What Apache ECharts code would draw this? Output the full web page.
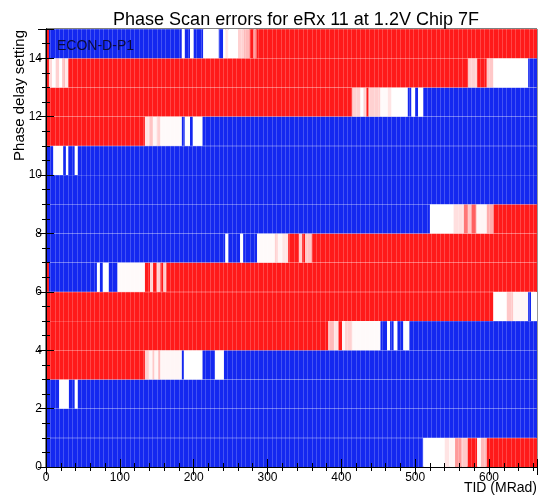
<!DOCTYPE html>
<html>
<head>
<meta charset="utf-8">
<script src="https://cdn.jsdelivr.net/npm/echarts@6/dist/echarts.min.js"></script>
<style>
  html, body { margin: 0; padding: 0; background: #fff; }
  #chart { width: 539px; height: 497px; }
</style>
</head>
<body>
<div id="chart"></div>
<script>
// error level per run: 0 = no errors (blue), 0.5 = white, 1 = all errors (red)
// each run is [tidStart, tidEnd, level]
const row0 = [[0, 511, 0], [511, 540, 0.5], [540, 546, 0.56], [546, 554, 0.52], [554, 563, 0.72], [563, 571, 0.62], [571, 584, 1], [584, 589, 0.52], [589, 597, 0.65], [597, 665, 1]]
const row1 = [[0, 665, 0]]
const row2 = [[0, 18, 0], [18, 31, 0.5], [31, 39, 0], [39, 43, 0.5], [43, 665, 0]]
const row3 = [[0, 134, 1], [134, 140, 0.6], [140, 144, 0.52], [144, 147, 0.62], [147, 152, 0.52], [152, 155, 0.65], [155, 184, 0.52], [184, 187, 0], [187, 212, 0.5], [212, 229, 0], [229, 241, 0.5], [241, 665, 0]]
const row4 = [[0, 382, 1], [382, 390, 0.65], [390, 396, 0.56], [396, 401, 1], [401, 405, 0.52], [405, 415, 0.6], [415, 453, 0.51], [453, 462, 0], [462, 466, 0.5], [466, 471, 0], [471, 476, 0.5], [476, 484, 0], [484, 492, 0.5], [492, 665, 0]]
const row5 = [[0, 606, 1], [606, 624, 0.5], [624, 633, 0.62], [633, 653, 0.52], [653, 657, 0], [657, 665, 0.5]]
const row6 = [[0, 4, 1], [4, 69, 0], [69, 73, 0.5], [73, 77, 0], [77, 85, 0.5], [85, 97, 0], [97, 134, 0.51], [134, 141, 1], [141, 145, 0.6], [145, 150, 1], [150, 155, 0.6], [155, 159, 1], [159, 163, 0.62], [163, 665, 1]]
const row7 = [[0, 243, 0], [243, 247, 0.5], [247, 263, 0], [263, 267, 0.5], [267, 286, 0], [286, 310, 0.51], [310, 314, 0.6], [314, 320, 0.52], [320, 328, 0.56], [328, 343, 1], [343, 347, 0.6], [347, 351, 1], [351, 360, 0.62], [360, 665, 1]]
const row8 = [[0, 520, 0], [520, 552, 0.5], [552, 566, 0.57], [566, 572, 0.8], [572, 576, 0.62], [576, 583, 0.85], [583, 597, 0.52], [597, 606, 0.68], [606, 665, 1]]
const row9 = [[0, 665, 0]]
const row10 = [[0, 10, 0], [10, 23, 0.5], [23, 27, 0], [27, 30, 0.5], [30, 39, 0], [39, 43, 0.5], [43, 665, 0]]
const row11 = [[0, 134, 1], [134, 140, 0.56], [140, 145, 0.63], [145, 150, 0.52], [150, 155, 0.6], [155, 184, 0.51], [184, 188, 0], [188, 195, 0.5], [195, 199, 0], [199, 212, 0.5], [212, 665, 0]]
const row12 = [[0, 415, 1], [415, 426, 0.6], [426, 430, 0.5], [430, 434, 0.6], [434, 437, 1], [437, 453, 0.6], [453, 463, 0.51], [463, 468, 0.56], [468, 490, 0.5], [490, 495, 0], [495, 500, 0.5], [500, 504, 0], [504, 511, 0.5], [511, 665, 0]]
const row13 = [[0, 4, 1], [4, 8, 0.6], [8, 13, 0.5], [13, 18, 0.6], [18, 22, 0.5], [22, 26, 0.65], [26, 30, 0.55], [30, 572, 1], [572, 584, 0.6], [584, 597, 1], [597, 606, 0.62], [606, 653, 0.5], [653, 665, 0]]
const row14 = [[0, 4, 1], [4, 184, 0], [184, 188, 0.5], [188, 195, 0], [195, 200, 0.5], [200, 213, 0], [213, 234, 0.5], [234, 240, 0], [240, 243, 0.5], [243, 247, 0.56], [247, 260, 0.5], [260, 268, 0.6], [268, 276, 0.65], [276, 281, 1], [281, 285, 0.75], [285, 665, 1]]

const rows = [row0, row1, row2, row3, row4, row5, row6, row7, row8, row9, row10, row11, row12, row13, row14]
const tidMax = 665
const phaseMax = 15

const data = []
rows.forEach((runs, r) => {
  runs.forEach((run) => {
    data.push([run[0], run[1], r, run[2]])
  })
})

const fontFamily = '"Liberation Sans", Arial, sans-serif'

const tickAxis = (extra) => Object.assign({
  type: 'value',
  axisLine: { show: true, lineStyle: { color: '#000', width: 1 } },
  axisTick: { show: true, inside: true, length: 8, lineStyle: { color: '#000' } },
  minorTick: { show: true, length: 4, lineStyle: { color: '#000' } },
  splitLine: { show: false },
  axisLabel: { show: false },
  z: 6,
}, extra)

const option = {
  animation: false,
  backgroundColor: '#fff',
  title: {
    text: 'Phase Scan errors for eRx 11 at 1.2V Chip 7F',
    left: 291,
    textAlign: 'center',
    top: 6,
    textStyle: { fontFamily: fontFamily, fontSize: 18, fontWeight: 'normal', color: '#000' },
  },
  grid: { left: 46, right: 2, top: 29, bottom: 30, show: true, borderColor: '#000', borderWidth: 1, backgroundColor: 'transparent' },
  visualMap: {
    show: false,
    type: 'continuous',
    dimension: 3,
    seriesIndex: 0,
    min: 0,
    max: 1,
    inRange: { color: ['#1428f0', '#ffffff', '#ff1a1a'] },
  },
  xAxis: [
    tickAxis({
      min: 0, max: tidMax, interval: 100, position: 'bottom',
      minorTick: { show: true, splitNumber: 5, length: 4, lineStyle: { color: '#000' } },
      axisLabel: { show: true, showMaxLabel: false, margin: 5, color: '#000', fontFamily: fontFamily, fontSize: 12 },
    }),
    tickAxis({
      min: 0, max: tidMax, interval: 100, position: 'top',
      minorTick: { show: true, splitNumber: 5, length: 4, lineStyle: { color: '#000' } },
    }),
    {
      type: 'value', min: 0, max: tidMax, interval: 6, show: true,
      axisLine: { show: false }, axisTick: { show: false }, axisLabel: { show: false },
      splitLine: { show: true, lineStyle: { color: 'rgba(255,255,255,0.2)', width: 1 } },
      z: 5,
    },
  ],
  yAxis: [
    tickAxis({
      min: 0, max: phaseMax, interval: 2, position: 'left',
      minorTick: { show: true, splitNumber: 4, length: 4, lineStyle: { color: '#000' } },
      axisLabel: { show: true, showMaxLabel: false, margin: 4, color: '#000', fontFamily: fontFamily, fontSize: 12 },
    }),
    tickAxis({
      min: 0, max: phaseMax, interval: 2, position: 'right',
      minorTick: { show: true, splitNumber: 4, length: 4, lineStyle: { color: '#000' } },
    }),
    {
      type: 'value', min: 0, max: phaseMax, interval: 1, show: true,
      axisLine: { show: false }, axisTick: { show: false }, axisLabel: { show: false },
      splitLine: { show: true, lineStyle: { color: 'rgba(255,255,255,0.18)', width: 1 } },
      z: 5,
    },
  ],
  graphic: [
    {
      type: 'text', left: 57, top: 39, z: 10,
      style: { text: 'ECON-D-P1', fill: '#0c0c3a', font: '14px ' + fontFamily },
    },
    {
      type: 'text', x: 537, y: 481, z: 10,
      style: { text: 'TID (MRad)', fill: '#000', font: '14px ' + fontFamily, align: 'right', verticalAlign: 'top' },
    },
    {
      type: 'text', x: 12, y: 30, rotation: Math.PI / 2, z: 10,
      style: { text: 'Phase delay setting', fill: '#000', font: '15px ' + fontFamily, align: 'right', verticalAlign: 'top' },
    },
  ],
  series: [
    {
      type: 'custom',
      xAxisIndex: 0,
      yAxisIndex: 0,
      clip: true,
      encode: { x: [0, 1], y: 2 },
      renderItem: (params, api) => {
        const p0 = api.coord([api.value(0), api.value(2) + 1])
        const p1 = api.coord([api.value(1), api.value(2)])
        return {
          type: 'rect',
          shape: { x: p0[0], y: p0[1], width: p1[0] - p0[0], height: p1[1] - p0[1] },
          style: { fill: api.visual('color') },
        }
      },
      data: data,
    },
  ],
}

const myChart = echarts.init(document.getElementById('chart'))
myChart.setOption(option)
</script>
</body>
</html>
